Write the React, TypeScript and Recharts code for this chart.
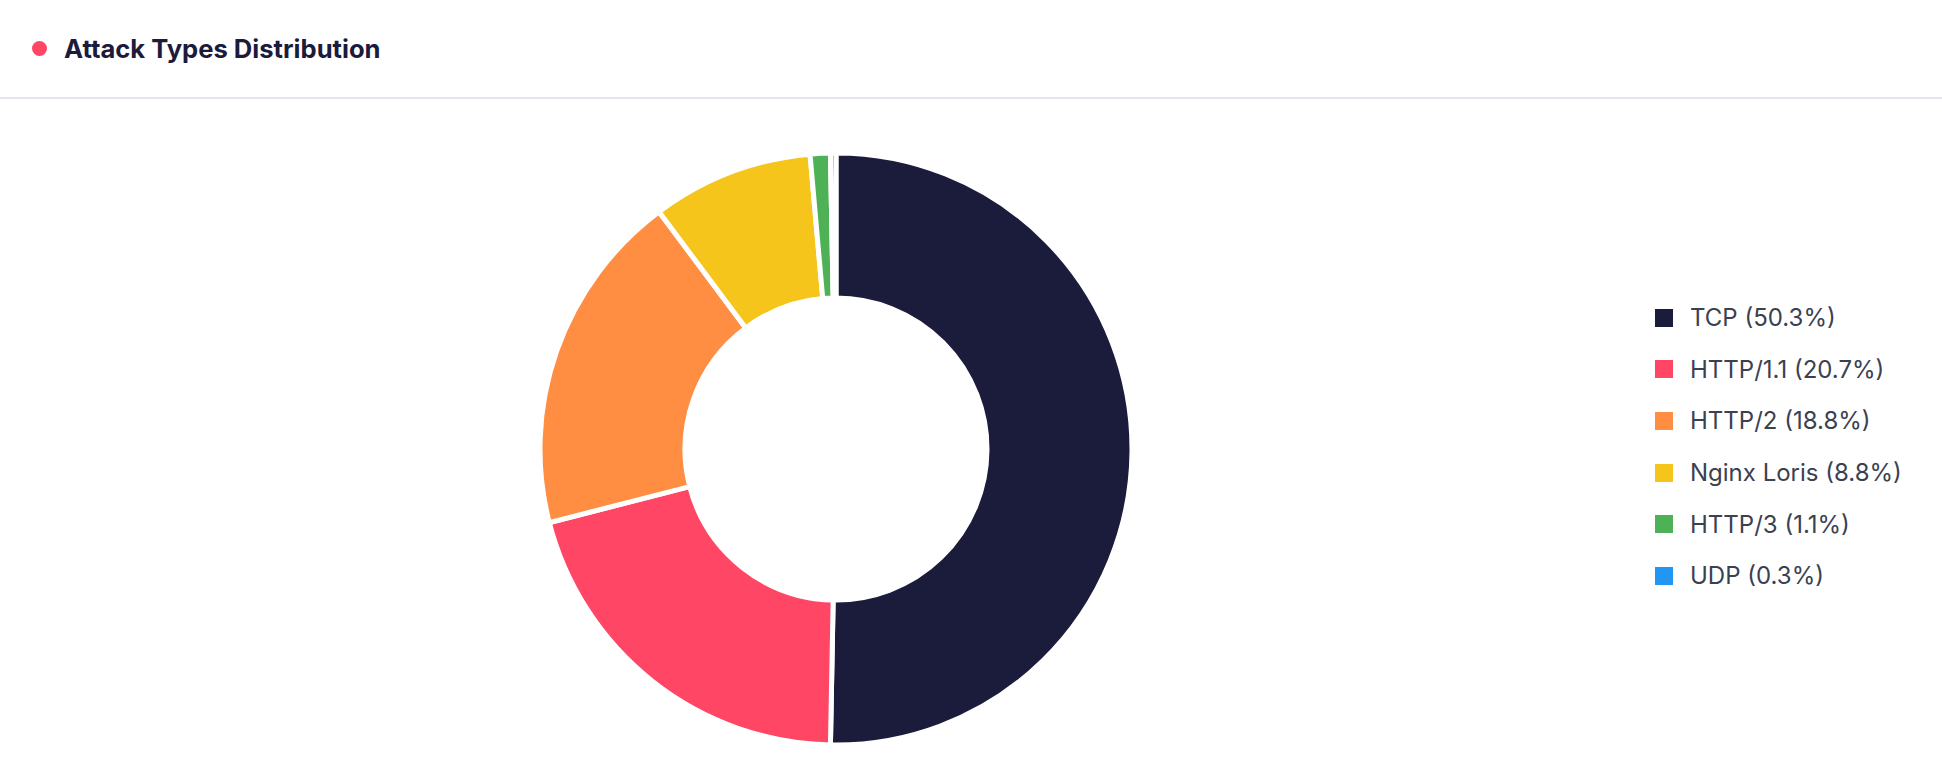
import { PieChart, Pie, Cell, Legend } from 'recharts'

const COLORS = {
  navy: '#1b1b3b',
  red: '#ff4664',
  orange: '#ff8d42',
  yellow: '#f5c51b',
  green: '#4fb155',
  blue: '#2196f3',
}

const attackTypes = ['TCP', 'HTTP/1.1', 'HTTP/2', 'Nginx Loris', 'HTTP/3', 'UDP']
const attackShares = [50.3, 20.7, 18.8, 8.8, 1.1, 0.3]
const sliceColors = [COLORS.navy, COLORS.red, COLORS.orange, COLORS.yellow, COLORS.green, COLORS.blue]

const data = attackTypes.map((name, i) => ({ name, value: attackShares[i] }))
const total = attackShares.reduce((a, b) => a + b, 0)

const FONT = 'Inter, "Noto Sans", sans-serif'

function LegendList({ payload }: any) {
  // keep the order of the data, not the alphabetical one
  const items = [...(payload || [])].sort(
    (a: any, b: any) => attackTypes.indexOf(a.value) - attackTypes.indexOf(b.value)
  )
  return (
    <ul style={{ listStyle: 'none', margin: 0, padding: 0, fontFamily: FONT }}>
      {items.map((entry: any, i: number) => {
        const v = entry.payload?.value ?? 0
        return (
          <li key={`item-${i}`} style={{ display: 'flex', alignItems: 'center', height: 51.6 }}>
            <span style={{ width: 18, height: 18, background: entry.color, marginRight: 17, display: 'inline-block' }} />
            <span style={{ fontSize: 24, color: '#3a4150' }}>
              {entry.value} ({((v / total) * 100).toFixed(1)}%)
            </span>
          </li>
        )
      })}
    </ul>
  )
}

export default function App() {
  return (
    <div style={{ position: 'relative', width: 1942, height: 778, background: '#fff', fontFamily: FONT }}>
      <style>{'body{margin:0}'}</style>
      <div
        style={{
          position: 'absolute',
          left: 0,
          top: 0,
          width: 1942,
          height: 97,
          borderBottom: '2px solid #e2e5ef',
          display: 'flex',
          alignItems: 'center',
        }}
      >
        <span style={{ width: 15, height: 15, borderRadius: '50%', background: COLORS.red, marginLeft: 32, marginRight: 17 }} />
        <span style={{ fontSize: 25.6, fontWeight: 700, color: '#1b1b3b' }}>Attack Types Distribution</span>
      </div>
      <div style={{ position: 'absolute', left: 0, top: 0 }}>
        <PieChart width={1942} height={778}>
          <Pie
            data={data}
            dataKey="value"
            nameKey="name"
            cx={831}
            cy={444}
            innerRadius={151}
            outerRadius={296}
            startAngle={90}
            endAngle={-270}
            stroke="#fff"
            strokeWidth={5}
            isAnimationActive={false}
          >
            {data.map((_, index) => (
              <Cell key={`cell-${index}`} fill={sliceColors[index]} />
            ))}
          </Pie>
          <Legend
            layout="vertical"
            itemSorter={null as any}
            content={<LegendList />}
            wrapperStyle={{ left: 1655, top: 292, width: 280 }}
          />
        </PieChart>
      </div>
    </div>
  )
}
